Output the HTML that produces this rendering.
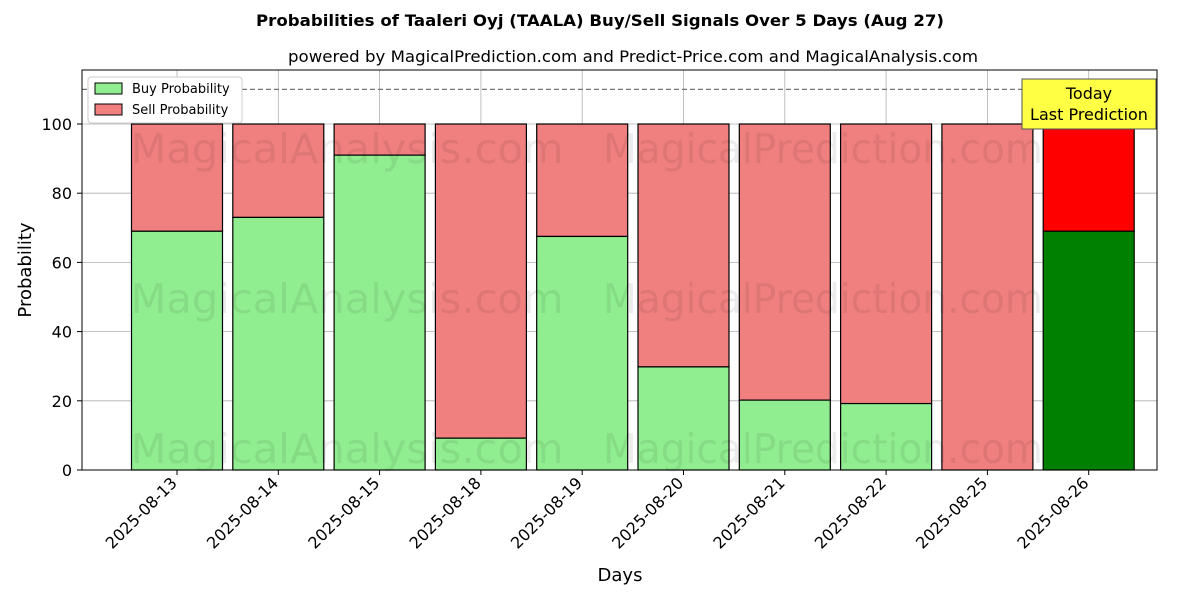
<!DOCTYPE html>
<html><head><meta charset="utf-8"><style>
body{margin:0;background:#fff;font-family:"Liberation Sans","DejaVu Sans",sans-serif}
</style></head><body>
<svg id="chart" width="1200" height="600" xmlns="http://www.w3.org/2000/svg" font-family="DejaVu Sans, Liberation Sans, sans-serif">
<rect width="1200" height="600" fill="#fff"/>
<text x="600" y="26" text-anchor="middle" font-size="16" font-weight="bold" textLength="688" lengthAdjust="spacingAndGlyphs">Probabilities of Taaleri Oyj (TAALA) Buy/Sell Signals Over 5 Days (Aug 27)</text>
<text x="633" y="62" text-anchor="middle" font-size="16" textLength="690" lengthAdjust="spacingAndGlyphs">powered by MagicalPrediction.com and Predict-Price.com and MagicalAnalysis.com</text>
<g id="grid"></g>
<g id="bars"></g>
<g id="wm" font-size="41" fill="#000" opacity="0.07">
<text x="347" y="163" text-anchor="middle" textLength="433" lengthAdjust="spacingAndGlyphs">MagicalAnalysis.com</text>
<text x="823" y="163" text-anchor="middle" textLength="440" lengthAdjust="spacingAndGlyphs">MagicalPrediction.com</text>
<text x="347" y="313" text-anchor="middle" textLength="433" lengthAdjust="spacingAndGlyphs">MagicalAnalysis.com</text>
<text x="823" y="313" text-anchor="middle" textLength="440" lengthAdjust="spacingAndGlyphs">MagicalPrediction.com</text>
<text x="347" y="463" text-anchor="middle" textLength="433" lengthAdjust="spacingAndGlyphs">MagicalAnalysis.com</text>
<text x="823" y="463" text-anchor="middle" textLength="440" lengthAdjust="spacingAndGlyphs">MagicalPrediction.com</text>
</g>
<line x1="82" x2="1157" y1="89.4" y2="89.4" stroke="#777" stroke-dasharray="5,3" stroke-width="1.2"/>
<rect x="82" y="70" width="1075" height="400" fill="none" stroke="#000" stroke-width="1"/>
<g id="axes"></g>
<text transform="translate(31,270) rotate(-90)" text-anchor="middle" font-size="18">Probability</text>
<text x="620" y="581" text-anchor="middle" font-size="18">Days</text>
<g>
<rect x="88" y="77" width="154" height="46" fill="#fff" stroke="#ccc" rx="3"/>
<rect x="95" y="83" width="27" height="11" fill="lightgreen" stroke="#000"/>
<text x="132" y="93" font-size="13">Buy Probability</text>
<rect x="95" y="104" width="27" height="11" fill="lightcoral" stroke="#000"/>
<text x="132" y="114" font-size="13">Sell Probability</text>
</g>
<g>
<rect x="1022" y="79" width="134" height="50" fill="#ffff44" stroke="#555"/>
<text x="1089" y="99" text-anchor="middle" font-size="16">Today</text>
<text x="1089" y="120" text-anchor="middle" font-size="16">Last Prediction</text>
</g>
</svg>
<script>
const categories=["2025-08-13","2025-08-14","2025-08-15","2025-08-18","2025-08-19","2025-08-20","2025-08-21","2025-08-22","2025-08-25","2025-08-26"];
const buyValues=[69,73,91,9.2,67.5,29.8,20.2,19.2,0,69];
const yTicks=[0,20,40,60,80,100];
const NS="http://www.w3.org/2000/svg";
const x0=177,step=101.3,bw=91;
function xs(i){return x0+i*step;}
function ys(v){return 470-v*3.46;}
function mk(t,a,p){const e=document.createElementNS(NS,t);for(const k in a)e.setAttribute(k,a[k]);(p||document.getElementById('chart')).appendChild(e);return e;}
const grid=document.getElementById('grid'),bars=document.getElementById('bars'),axes=document.getElementById('axes');
yTicks.forEach(v=>{
 const l=mk('line',{x1:82,x2:1157,y1:ys(v),y2:ys(v),stroke:'#b0b0b0','stroke-width':0.8},grid);
 
 
 mk('line',{x1:77,x2:82,y1:ys(v),y2:ys(v),stroke:'#000'},axes);
 const t=mk('text',{x:72,y:ys(v)+6,'text-anchor':'end','font-size':16},axes);t.textContent=v;
 
 
});
categories.forEach((c,i)=>{
 const x=xs(i),last=i===categories.length-1,b=buyValues[i];
 const g=mk('line',{x1:x,x2:x,y1:70,y2:470,stroke:'#b0b0b0','stroke-width':0.8},grid);
 
 
 const s=mk('rect',{x:x-bw/2,y:ys(100),width:bw,height:ys(b)-ys(100),fill:last?'red':'lightcoral',stroke:'#000','stroke-width':1.2},bars);
 
 
 const r=mk('rect',{x:x-bw/2,y:ys(b),width:bw,height:470-ys(b),fill:last?'green':'lightgreen',stroke:'#000','stroke-width':1.2},bars);
 
 
 mk('line',{x1:x,x2:x,y1:470,y2:475,stroke:'#000'},axes);
 const t=mk('text',{x:x+1,y:484,'text-anchor':'end','font-size':16,transform:`rotate(-45 ${x+1} 484)`},axes);t.textContent=c;
 
 
});
</script>
</body></html>
